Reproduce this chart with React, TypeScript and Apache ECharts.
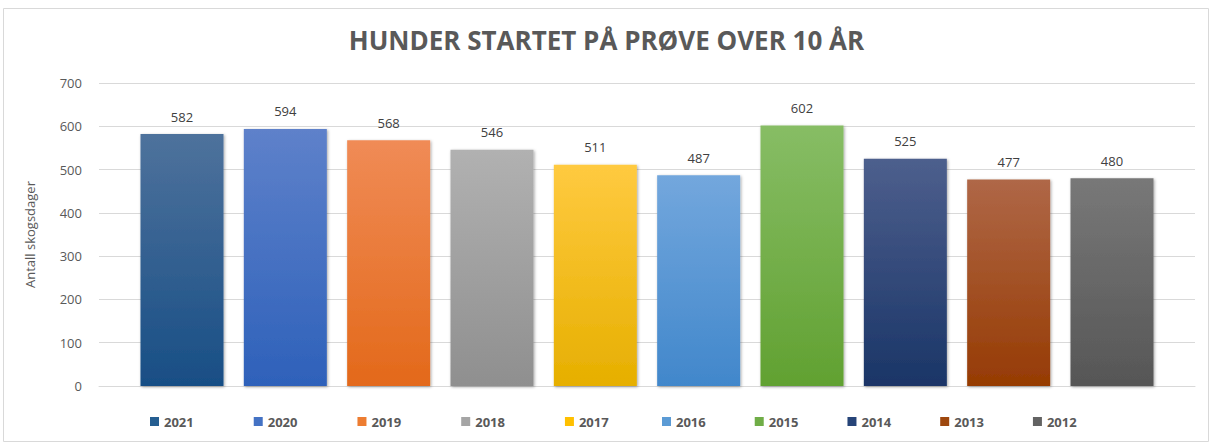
import React, { useEffect, useRef } from "react";
import * as echarts from "echarts";

const years = ["2021", "2020", "2019", "2018", "2017", "2016", "2015", "2014", "2013", "2012"];
const values = [582, 594, 568, 546, 511, 487, 602, 525, 477, 480];
const topColors = ["#4E729C", "#5E81CA", "#F08B56", "#B1B1B1", "#FFCA40", "#73A7DD", "#87BD65", "#4D5F8D", "#AF6747", "#787878"];
const bottomColors = ["#184E85", "#2E61BA", "#E3691A", "#8F8F8F", "#E6AF00", "#4187CB", "#61A131", "#1A3567", "#963B03", "#565656"];
const legendColors = ["#255E91", "#4472C4", "#ED7D31", "#A5A5A5", "#FFC000", "#5B9BD5", "#70AD47", "#264478", "#9E480E", "#636363"];
const yTicks = [0, 100, 200, 300, 400, 500, 600, 700];

const FONT = "'Open Sans', 'Noto Sans', sans-serif";

export default function App() {
  const ref = useRef<HTMLDivElement>(null);
  useEffect(() => {
    if (!ref.current) return;
    const chart = echarts.init(ref.current, null, { renderer: "svg" });
    const series = years.map((y, i) => ({
      name: y,
      type: "bar",
      barWidth: 83,
      barGap: "24.5%",
      data: [values[i]],
      itemStyle: {
        color: new echarts.graphic.LinearGradient(0, 0, 0, 1, [
          { offset: 0, color: topColors[i] },
          { offset: 1, color: bottomColors[i] },
        ]),
        shadowBlur: 3,
        shadowColor: "rgba(0,0,0,0.35)",
        shadowOffsetX: 1,
        shadowOffsetY: 1,
      },
      label: {
        show: true,
        position: "top",
        distance: 11,
        color: "#404040",
        fontFamily: FONT,
        fontSize: 13,
      },
    }));
    const legendText = { color: "#595959", fontFamily: FONT, fontSize: 13, fontWeight: "bold" };
    chart.setOption({
      animation: false,
      color: legendColors,
      title: {
        text: "HUNDER STARTET PÅ PRØVE OVER 10 ÅR",
        left: "center",
        top: 22,
        textStyle: { color: "#595959", fontFamily: FONT, fontSize: 26, fontWeight: "bold" },
      },
      graphic: [
        {
          type: "rect",
          shape: { x: 3.5, y: 8.5, width: 1205, height: 433 },
          style: { fill: "none", stroke: "#D9D9D9", lineWidth: 1 },
          silent: true,
        },
      ],
      legend: [
        {
          bottom: 15,
          left: 150,
          padding: 0,
          itemGap: 60,
          itemWidth: 9,
          itemHeight: 9,
          icon: "rect",
          data: years.slice(0, 5).map((y, i) => ({ name: y, itemStyle: { color: legendColors[i] } })),
          textStyle: legendText,
        },
        {
          bottom: 15,
          left: 662,
          padding: 0,
          itemGap: 49,
          itemWidth: 9,
          itemHeight: 9,
          icon: "rect",
          data: years.slice(5).map((y, i) => ({ name: y, itemStyle: { color: legendColors[i + 5] } })),
          textStyle: legendText,
        },
      ],
      grid: { left: 99, right: 18, top: 83, bottom: 57, containLabel: false },
      xAxis: {
        type: "category",
        data: [""],
        axisLabel: { show: false },
        axisTick: { show: false },
        axisLine: { lineStyle: { color: "#D9D9D9" } },
      },
      yAxis: {
        type: "value",
        min: yTicks[0],
        max: yTicks[yTicks.length - 1],
        interval: 100,
        name: "Antall skogsdager",
        nameLocation: "middle",
        nameGap: 63,
        nameTextStyle: { color: "#595959", fontFamily: FONT, fontSize: 13 },
        axisLabel: { color: "#595959", fontFamily: FONT, fontSize: 13, margin: 17 },
        splitLine: { lineStyle: { color: "#D9D9D9" } },
        axisLine: { show: false },
        axisTick: { show: false },
      },
      series,
    });
    return () => chart.dispose();
  }, []);
  return <div ref={ref} style={{ position: "absolute", left: 0, top: 0, width: 1213, height: 443 }} />;
}
